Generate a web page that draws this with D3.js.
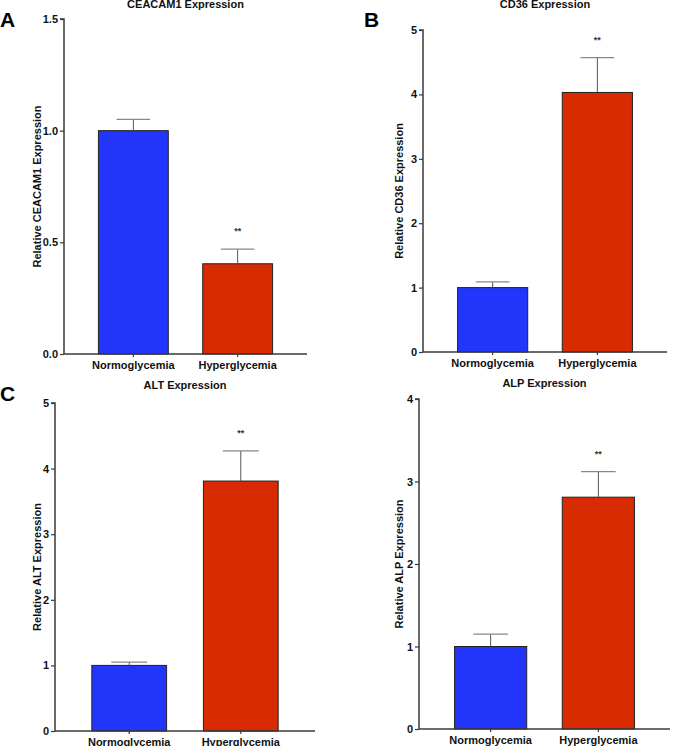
<!DOCTYPE html>
<html>
<head>
<meta charset="utf-8">
<script src="https://cdn.jsdelivr.net/npm/d3@7"></script>
<style>
  body { margin: 0; background: #fff; }
  svg { display: block; font-family: "Liberation Sans", Arial, sans-serif; }
</style>
</head>
<body>
<svg id="fig" width="677" height="746"></svg>
<script>
// groups on x
const groups = ["Normoglycemia", "Hyperglycemia"];

// means and error (upper SEM) per panel
const ceacamMean = [1.0, 0.404];
const ceacamErr  = [0.051, 0.066];
const cd36Mean   = [1.0, 4.03];
const cd36Err    = [0.09, 0.54];
const altMean    = [1.0, 3.81];
const altErr     = [0.05, 0.46];
const alpMean    = [1.0, 2.81];
const alpErr     = [0.15, 0.31];

const ceacamTicks = [0, 0.5, 1.0, 1.5];
const cd36Ticks   = [0, 1, 2, 3, 4, 5];
const altTicks    = [0, 1, 2, 3, 4, 5];
const alpTicks    = [0, 1, 2, 3, 4];

const barColors = ["#2236fb", "#d92b02"];

// panel layout (pixel frame of each plot)
const panels = [
  {letter: "A", title: "CEACAM1 Expression", ylab: "Relative CEACAM1 Expression",
   mean: ceacamMean, err: ceacamErr, ticks: ceacamTicks, ymax: 1.5, fmt: d3.format(".1f"),
   x0: 64, x1: 307, yTop: 19, yBot: 354, titleY: 8, letterX: 0, letterY: 27, ylabX: 37},
  {letter: "B", title: "CD36 Expression", ylab: "Relative CD36 Expression",
   mean: cd36Mean, err: cd36Err, ticks: cd36Ticks, ymax: 5, fmt: d3.format("d"),
   x0: 423, x1: 667, yTop: 30, yBot: 352, titleY: 8, letterX: 364, letterY: 27, ylabX: 399},
  {letter: "C", title: "ALT Expression", ylab: "Relative ALT Expression",
   mean: altMean, err: altErr, ticks: altTicks, ymax: 5, fmt: d3.format("d"),
   x0: 55, x1: 315, yTop: 403, yBot: 731, titleY: 389, letterX: 0, letterY: 401, ylabX: 37},
  {letter: "", title: "ALP Expression", ylab: "Relative ALP Expression",
   mean: alpMean, err: alpErr, ticks: alpTicks, ymax: 4, fmt: d3.format("d"),
   x0: 419, x1: 670, yTop: 399, yBot: 729, titleY: 387, letterX: 0, letterY: 0, ylabX: 399}
];

const svg = d3.select("#fig");

panels.forEach(p => {
  const g = svg.append("g");
  const x = d3.scaleBand().domain(groups).range([p.x0, p.x1])
    .paddingInner(0.33).paddingOuter(0.33);
  const y = d3.scaleLinear().domain([0, p.ymax]).range([p.yBot, p.yTop]);
  const rows = groups.map((k, i) => ({k: k, m: p.mean[i], e: p.err[i], i: i}));

  // bars
  g.selectAll(".bar").data(rows).enter().append("rect")
    .attr("x", d => x(d.k))
    .attr("y", d => y(d.m))
    .attr("width", x.bandwidth())
    .attr("height", d => y(0) - y(d.m))
    .attr("fill", d => barColors[d.i])
    .attr("stroke", "#222")
    .attr("stroke-width", 1);

  // error bars (upper only)
  const cw = x.bandwidth() * 0.24;
  g.selectAll(".stem").data(rows).enter().append("line")
    .attr("x1", d => x(d.k) + x.bandwidth() / 2)
    .attr("x2", d => x(d.k) + x.bandwidth() / 2)
    .attr("y1", d => y(d.m))
    .attr("y2", d => y(d.m + d.e))
    .attr("stroke", "#555").attr("stroke-width", 1);
  g.selectAll(".cap").data(rows).enter().append("line")
    .attr("x1", d => x(d.k) + x.bandwidth() / 2 - cw)
    .attr("x2", d => x(d.k) + x.bandwidth() / 2 + cw)
    .attr("y1", d => y(d.m + d.e))
    .attr("y2", d => y(d.m + d.e))
    .attr("stroke", "#888").attr("stroke-width", 1.2);

  // significance stars above the hyperglycemia bar
  const hi = rows[1];
  g.append("text")
    .attr("x", x(hi.k) + x.bandwidth() / 2)
    .attr("y", y(hi.m + hi.e) - (p.yBot - p.yTop) * 0.045)
    .attr("text-anchor", "middle")
    .attr("font-size", 9).attr("font-weight", "bold")
    .attr("fill", "#333")
    .text("**");

  // axes
  const ya = g.append("g").attr("transform", `translate(${p.x0},0)`)
    .call(d3.axisLeft(y).tickValues(p.ticks).tickFormat(p.fmt).tickSize(4).tickPadding(2));
  const xa = g.append("g").attr("transform", `translate(0,${p.yBot})`)
    .call(d3.axisBottom(x).tickSize(3).tickPadding(4));
  [ya, xa].forEach(a => {
    a.select(".domain").attr("stroke", "#3a3a3a").attr("stroke-width", 1.5);
    a.selectAll(".tick line").attr("stroke", "#3a3a3a").attr("stroke-width", 1.2);
    a.selectAll("text").attr("fill", "#111").attr("font-size", 11)
      .attr("font-weight", "bold").attr("font-family", "Liberation Sans, Arial, sans-serif");
  });
  ya.select(".domain").attr("d", `M-4,${p.yTop}H0V${p.yBot}`);
  xa.select(".domain").attr("d", `M${p.x0},0H${p.x1}`);

  // title
  g.append("text")
    .attr("x", (p.x0 + p.x1) / 2).attr("y", p.titleY)
    .attr("text-anchor", "middle")
    .attr("font-size", 11).attr("font-weight", "bold").attr("fill", "#111")
    .text(p.title);

  // y label
  g.append("text")
    .attr("transform", `translate(${p.ylabX},${(p.yTop + p.yBot) / 2}) rotate(-90)`)
    .attr("text-anchor", "middle").attr("dy", "0.35em")
    .attr("font-size", 11).attr("font-weight", "bold").attr("fill", "#111")
    .text(p.ylab);

  // panel letter
  if (p.letter) {
    g.append("text")
      .attr("x", p.letterX).attr("y", p.letterY)
      .attr("font-size", 21).attr("font-weight", "bold").attr("fill", "#000")
      .text(p.letter);
  }
});
</script>
</body>
</html>
